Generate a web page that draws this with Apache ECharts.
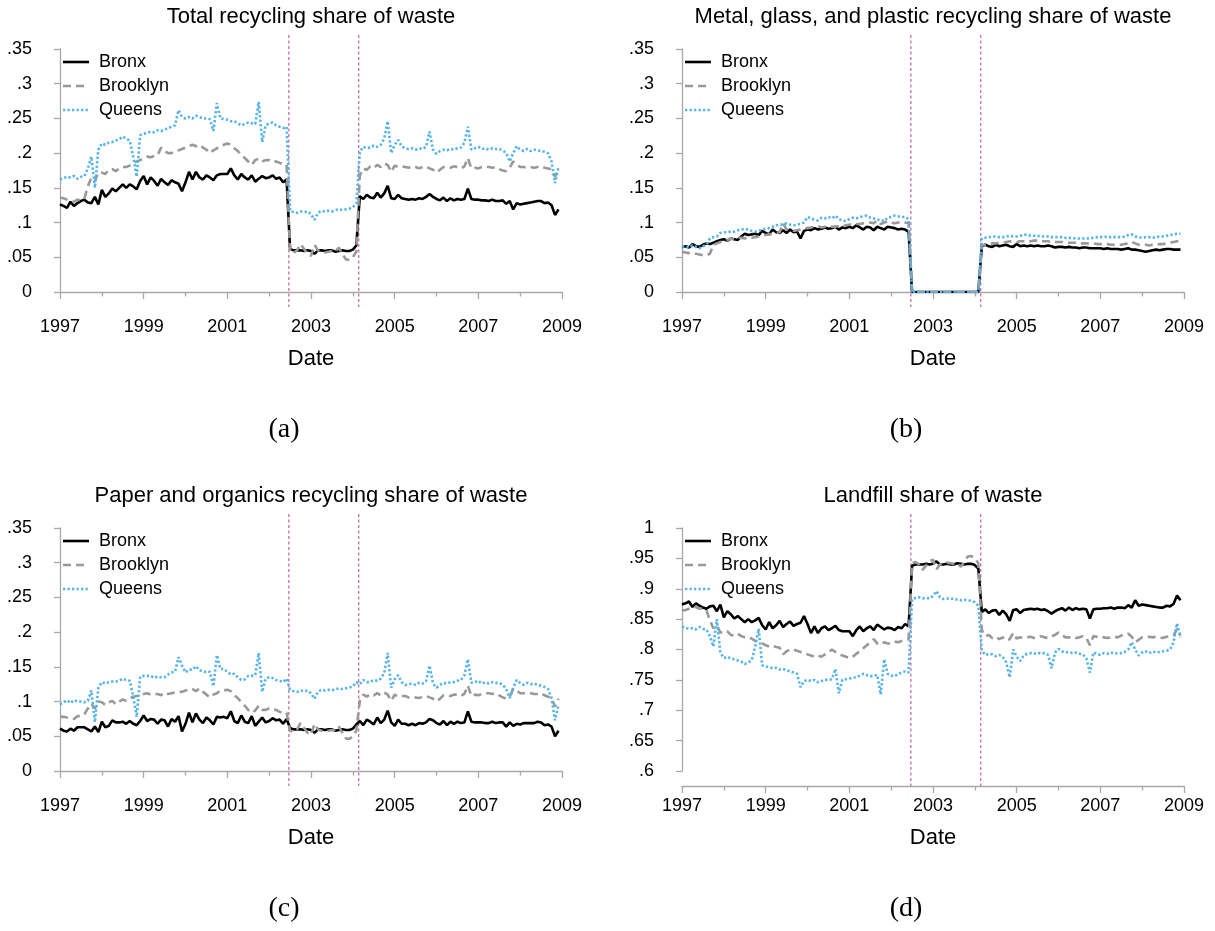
<!DOCTYPE html>
<html><head><meta charset="utf-8">
<script src="https://cdn.jsdelivr.net/npm/echarts@6/dist/echarts.min.js"></script>
<style>html,body{margin:0;padding:0;background:#fff}#chart{width:1215px;height:931px}</style>
</head><body><div id="chart"></div>
<script>
// ---------- data (monthly, Jan 1997 .. Dec 2008) ----------
const startYear = 1997;
const boroughs = ['Bronx', 'Brooklyn', 'Queens'];
const xTickLabels = ['1997', '1999', '2001', '2003', '2005', '2007', '2009'];
const shareTickLabels = ['0', '.05', '.1', '.15', '.2', '.25', '.3', '.35'];
const landfillTickLabels = ['.6', '.65', '.7', '.75', '.8', '.85', '.9', '.95', '1'];
const eventDates = [2002.47, 2004.14];
const panelTitles = ['Total recycling share of waste', 'Metal, glass, and plastic recycling share of waste',
  'Paper and organics recycling share of waste', 'Landfill share of waste'];
const captions = ['(a)', '(b)', '(c)', '(d)'];

const totalBronx = [
.126,.124,.121,.130,.124,.128,.131,.133,.129,.128,.137,.126,
.147,.137,.142,.149,.145,.150,.155,.150,.155,.152,.148,.160,
.167,.155,.165,.160,.153,.163,.158,.154,.161,.158,.156,.145,
.158,.173,.162,.173,.165,.162,.168,.165,.161,.168,.170,.170,
.170,.178,.168,.162,.170,.165,.162,.168,.159,.163,.167,.164,
.165,.168,.163,.165,.158,.162,.062,.060,.060,.060,.059,.060,
.059,.055,.060,.060,.059,.060,.060,.058,.059,.060,.059,.059,
.061,.067,.138,.134,.140,.136,.135,.143,.136,.142,.153,.135,
.134,.140,.135,.134,.133,.134,.133,.135,.134,.137,.141,.137,
.134,.132,.136,.131,.135,.132,.134,.133,.134,.149,.134,.133,
.133,.132,.132,.131,.133,.131,.131,.132,.127,.131,.119,.128,
.126,.127,.128,.129,.130,.131,.131,.128,.129,.125,.111,.119];
const totalBrooklyn = [
.136,.135,.133,.131,.130,.133,.132,.135,.152,.165,.160,.172,
.172,.170,.176,.177,.174,.178,.180,.180,.182,.186,.188,.190,
.193,.195,.194,.196,.197,.208,.203,.200,.200,.202,.204,.206,
.208,.210,.212,.210,.212,.208,.205,.200,.204,.207,.210,.212,
.214,.212,.207,.203,.198,.193,.188,.183,.190,.192,.188,.190,
.190,.187,.188,.186,.184,.183,.058,.056,.060,.069,.062,.055,
.052,.068,.060,.058,.057,.058,.059,.058,.064,.055,.047,.046,
.050,.058,.168,.178,.176,.181,.179,.183,.180,.185,.183,.173,
.182,.180,.181,.180,.179,.181,.180,.178,.180,.181,.178,.176,
.172,.176,.180,.180,.179,.181,.180,.178,.181,.193,.178,.179,
.178,.180,.181,.180,.179,.180,.177,.175,.174,.179,.188,.184,
.180,.180,.179,.180,.179,.180,.181,.179,.178,.177,.166,.177];
const totalQueens = [
.162,.164,.166,.165,.167,.163,.166,.167,.178,.195,.150,.205,
.214,.212,.215,.216,.218,.220,.224,.221,.218,.195,.166,.226,
.228,.229,.231,.230,.233,.232,.234,.236,.238,.240,.262,.252,
.250,.252,.250,.254,.252,.250,.250,.249,.232,.272,.250,.249,
.248,.246,.246,.243,.240,.242,.244,.243,.242,.274,.216,.240,
.243,.244,.240,.238,.236,.238,.117,.115,.114,.116,.115,.116,
.112,.104,.114,.117,.116,.117,.116,.118,.119,.118,.119,.120,
.122,.128,.202,.209,.207,.208,.211,.209,.212,.221,.246,.200,
.212,.219,.210,.207,.206,.207,.205,.207,.206,.209,.231,.205,
.199,.203,.205,.204,.206,.205,.207,.208,.215,.238,.205,.207,
.209,.206,.207,.205,.207,.206,.206,.204,.200,.188,.200,.210,
.205,.203,.206,.203,.205,.204,.203,.202,.200,.188,.157,.180];

const mgpBronx = [
.065,.066,.064,.069,.066,.065,.068,.070,.069,.071,.073,.075,
.076,.074,.077,.076,.075,.080,.084,.082,.083,.084,.082,.088,
.085,.083,.090,.086,.085,.089,.085,.090,.086,.087,.077,.088,
.090,.089,.092,.090,.091,.093,.091,.092,.094,.090,.093,.092,
.094,.092,.096,.093,.090,.094,.093,.089,.094,.092,.090,.094,
.093,.092,.090,.091,.090,.087,0,0,0,0,0,0,
0,0,0,0,0,0,0,0,0,0,0,0,
0,0,.066,.068,.066,.065,.068,.066,.067,.068,.066,.065,
.069,.066,.067,.066,.067,.066,.067,.066,.066,.067,.066,.064,
.065,.065,.064,.065,.064,.064,.063,.064,.064,.063,.063,.063,
.063,.062,.063,.062,.062,.062,.061,.062,.063,.061,.061,.060,
.059,.058,.059,.060,.061,.060,.061,.062,.062,.061,.061,.061];
const mgpBrooklyn = [
.058,.057,.056,.055,.055,.054,.053,.053,.055,.068,.070,.072,
.073,.075,.077,.076,.078,.078,.077,.079,.078,.079,.080,.081,
.082,.083,.084,.085,.086,.099,.090,.089,.088,.089,.090,.092,
.092,.093,.094,.095,.093,.094,.095,.094,.094,.095,.094,.096,
.097,.097,.098,.098,.099,.099,.100,.099,.103,.098,.100,.102,
.100,.099,.100,.101,.100,.099,0,0,0,0,0,0,
0,0,0,0,0,0,0,0,0,0,0,0,
0,0,.067,.068,.069,.070,.070,.071,.071,.072,.073,.072,
.072,.073,.073,.072,.073,.074,.074,.073,.073,.073,.072,.072,
.072,.072,.071,.071,.071,.071,.070,.070,.070,.070,.070,.069,
.069,.069,.069,.068,.068,.068,.068,.069,.070,.072,.070,.068,
.068,.068,.067,.068,.068,.069,.069,.070,.071,.072,.073,.073];
const mgpQueens = [
.066,.065,.064,.067,.065,.063,.066,.068,.077,.079,.080,.085,
.086,.086,.087,.087,.089,.090,.091,.090,.088,.087,.088,.090,
.091,.092,.094,.096,.097,.097,.099,.097,.096,.097,.098,.100,
.108,.106,.104,.103,.107,.106,.108,.106,.110,.105,.103,.102,
.105,.107,.106,.108,.109,.110,.107,.106,.104,.104,.102,.107,
.108,.110,.109,.108,.108,.105,0,0,0,0,0,0,
0,0,0,0,0,0,0,0,0,0,0,0,
0,0,.077,.078,.079,.080,.080,.079,.079,.080,.081,.080,
.080,.081,.082,.083,.081,.081,.081,.080,.080,.080,.079,.079,
.079,.079,.078,.078,.078,.077,.077,.077,.077,.077,.078,.079,
.079,.080,.079,.079,.079,.079,.079,.080,.082,.083,.080,.079,
.078,.079,.079,.078,.079,.080,.080,.081,.082,.083,.084,.084];

const paperBronx = [
.061,.058,.057,.061,.058,.063,.063,.063,.060,.057,.064,.056,
.071,.063,.065,.073,.070,.070,.071,.068,.072,.068,.066,.072,
.080,.072,.075,.074,.068,.074,.073,.064,.075,.071,.079,.057,
.068,.084,.070,.083,.074,.069,.077,.073,.067,.078,.077,.078,
.076,.086,.072,.069,.080,.071,.069,.079,.065,.071,.077,.070,
.072,.076,.073,.074,.068,.075,.062,.060,.060,.060,.059,.060,
.059,.055,.060,.060,.059,.060,.060,.058,.059,.060,.059,.059,
.061,.067,.072,.066,.074,.071,.067,.077,.069,.074,.087,.070,
.065,.074,.068,.068,.066,.068,.066,.069,.068,.070,.075,.073,
.069,.067,.072,.066,.071,.068,.071,.069,.070,.086,.071,.070,
.070,.070,.069,.069,.071,.069,.070,.070,.064,.070,.065,.068,
.067,.069,.069,.069,.069,.071,.070,.066,.067,.064,.050,.058];
const paperBrooklyn = [
.078,.078,.077,.076,.075,.079,.079,.082,.090,.097,.090,.100,
.099,.095,.099,.101,.096,.100,.103,.101,.104,.107,.108,.109,
.111,.112,.110,.111,.111,.109,.113,.111,.112,.113,.114,.114,
.116,.117,.118,.115,.119,.114,.110,.106,.110,.112,.116,.116,
.117,.115,.109,.105,.099,.094,.088,.084,.087,.094,.088,.088,
.090,.088,.088,.085,.084,.084,.058,.056,.060,.069,.062,.055,
.052,.068,.060,.058,.057,.058,.059,.058,.064,.055,.047,.046,
.050,.058,.101,.110,.107,.111,.109,.112,.109,.113,.110,.101,
.110,.107,.108,.108,.106,.107,.106,.105,.107,.108,.106,.104,
.100,.104,.109,.109,.108,.110,.110,.108,.111,.123,.108,.110,
.109,.111,.112,.112,.111,.112,.109,.106,.104,.107,.118,.116,
.112,.112,.112,.112,.111,.111,.112,.109,.107,.105,.093,.104];
const paperQueens = [
.096,.099,.102,.098,.102,.100,.100,.099,.101,.116,.070,.120,
.128,.126,.128,.129,.129,.130,.133,.131,.130,.108,.078,.136,
.137,.137,.137,.134,.136,.135,.135,.139,.142,.143,.164,.152,
.142,.146,.146,.151,.145,.144,.142,.143,.122,.167,.147,.147,
.143,.139,.140,.135,.131,.132,.137,.137,.138,.170,.114,.133,
.135,.134,.131,.130,.128,.133,.117,.115,.114,.116,.115,.116,
.112,.104,.114,.117,.116,.117,.116,.118,.119,.118,.119,.120,
.122,.128,.125,.131,.128,.128,.131,.130,.133,.141,.170,.120,
.132,.138,.128,.124,.125,.126,.124,.127,.126,.129,.152,.126,
.120,.124,.127,.126,.128,.128,.130,.131,.138,.161,.127,.128,
.130,.126,.128,.126,.128,.127,.127,.124,.118,.105,.120,.131,
.127,.124,.127,.125,.126,.124,.123,.121,.118,.105,.073,.096];

const landfillBronx = [
.874,.876,.879,.870,.876,.872,.869,.867,.871,.872,.863,.874,
.853,.863,.858,.851,.855,.850,.845,.850,.845,.848,.852,.840,
.833,.845,.835,.840,.847,.837,.842,.846,.839,.842,.844,.855,
.842,.827,.838,.827,.835,.838,.832,.835,.839,.832,.830,.830,
.830,.822,.832,.838,.830,.835,.838,.832,.841,.837,.833,.836,
.835,.832,.837,.835,.842,.838,.938,.940,.940,.940,.941,.940,
.941,.945,.940,.940,.941,.940,.940,.942,.941,.940,.941,.941,
.939,.933,.862,.866,.860,.864,.865,.857,.864,.858,.847,.865,
.866,.860,.865,.866,.867,.866,.867,.865,.866,.863,.859,.863,
.866,.868,.864,.869,.865,.868,.866,.867,.866,.851,.866,.867,
.867,.868,.868,.869,.867,.869,.869,.868,.873,.869,.881,.872,
.874,.873,.872,.871,.870,.869,.869,.872,.871,.875,.889,.881];
const landfillBrooklyn = [
.864,.865,.867,.869,.870,.867,.868,.865,.848,.835,.840,.828,
.828,.830,.824,.823,.826,.822,.820,.820,.818,.814,.812,.810,
.807,.805,.806,.804,.803,.792,.797,.800,.800,.798,.796,.794,
.792,.790,.788,.790,.788,.792,.795,.800,.796,.793,.790,.788,
.786,.788,.793,.797,.802,.807,.812,.817,.810,.808,.812,.810,
.810,.813,.812,.814,.816,.817,.942,.944,.940,.931,.938,.945,
.948,.932,.940,.942,.943,.942,.941,.942,.936,.945,.953,.954,
.950,.942,.832,.822,.824,.819,.821,.817,.820,.815,.817,.827,
.818,.820,.819,.820,.821,.819,.820,.822,.820,.819,.822,.824,
.828,.824,.820,.820,.821,.819,.820,.822,.819,.807,.822,.821,
.822,.820,.819,.820,.821,.820,.823,.825,.826,.821,.812,.816,
.820,.820,.821,.820,.821,.820,.819,.821,.822,.823,.834,.823];
const landfillQueens = [
.838,.836,.834,.835,.833,.837,.834,.833,.822,.805,.850,.795,
.786,.788,.785,.784,.782,.780,.776,.779,.782,.805,.834,.774,
.772,.771,.769,.770,.767,.768,.766,.764,.762,.760,.738,.748,
.750,.748,.750,.746,.748,.750,.750,.751,.768,.728,.750,.751,
.752,.754,.754,.757,.760,.758,.756,.757,.758,.726,.784,.760,
.757,.756,.760,.762,.764,.762,.883,.885,.886,.884,.885,.884,
.888,.896,.886,.883,.884,.883,.884,.882,.881,.882,.881,.880,
.878,.872,.798,.791,.793,.792,.789,.791,.788,.779,.754,.800,
.788,.781,.790,.793,.794,.793,.795,.793,.794,.791,.769,.795,
.801,.797,.795,.796,.794,.795,.793,.792,.785,.762,.795,.793,
.791,.794,.793,.795,.793,.794,.794,.796,.800,.812,.800,.790,
.795,.797,.794,.797,.795,.796,.797,.798,.800,.812,.843,.820];

// ---------- layout / styles ----------
const FONT = '"Liberation Sans", Arial, sans-serif';
const AXIS_GRAY = '#a8a8a8';
const EVENT_COLOR = '#CC79A7';
const lineStyles = [
  {color: '#000000', width: 2.6, type: 'solid'},
  {color: '#999999', width: 2.6, type: [8, 5]},
  {color: '#56B4E9', width: 2.6, type: [2.3, 2.2]}
];
const panels = [
  {series: [totalBronx, totalBrooklyn, totalQueens], ticks: shareTickLabels, min: 0, max: 0.35},
  {series: [mgpBronx, mgpBrooklyn, mgpQueens], ticks: shareTickLabels, min: 0, max: 0.35},
  {series: [paperBronx, paperBrooklyn, paperQueens], ticks: shareTickLabels, min: 0, max: 0.35},
  {series: [landfillBronx, landfillBrooklyn, landfillQueens], ticks: landfillTickLabels, min: 0.6, max: 1}
];
const boxes = [
  {left: 60, top: 49}, {left: 682, top: 49}, {left: 60, top: 528}, {left: 682, top: 528}
];
const PW = 502, PH = 243;

const grids = [], xAxes = [], yAxes = [], series = [], graphics = [];
panels.forEach((p, i) => {
  const b = boxes[i];
  grids.push({left: b.left, top: b.top, width: PW, height: PH});
  xAxes.push({
    gridIndex: i, type: 'value', min: 0, max: 144, interval: 24, offset: 15,
    axisLine: {show: true, lineStyle: {color: AXIS_GRAY, width: 1.3}},
    axisTick: {show: true, length: 7, lineStyle: {color: AXIS_GRAY, width: 1.3}},
    minorTick: {show: true, splitNumber: 2, length: 4.5, lineStyle: {color: AXIS_GRAY, width: 1.3}},
    splitLine: {show: false}, minorSplitLine: {show: false},
    axisLabel: {formatter: v => xTickLabels[Math.round(v / 24)], margin: 11, fontSize: 18, color: '#000', fontFamily: FONT},
    name: 'Date', nameLocation: 'middle', nameGap: 41,
    nameTextStyle: {fontSize: 22, color: '#000', fontFamily: FONT}
  });
  yAxes.push({
    gridIndex: i, type: 'value', min: p.min, max: p.max, interval: 0.05, offset: 15,
    axisLine: {show: true, lineStyle: {color: AXIS_GRAY, width: 1.3}},
    axisTick: {show: true, length: 6, lineStyle: {color: AXIS_GRAY, width: 1.3}},
    splitLine: {show: false},
    axisLabel: {formatter: v => p.ticks[Math.round((v - p.min) / 0.05)], margin: 13, fontSize: 18, color: '#000', fontFamily: FONT}
  });
  p.series.forEach((arr, j) => {
    series.push({
      type: 'line', name: boroughs[j], xAxisIndex: i, yAxisIndex: i,
      data: arr.map((v, k) => [k, v]), symbol: 'none', silent: true,
      lineStyle: lineStyles[j], z: 3 + j
    });
  });
  series.push({
    type: 'custom', xAxisIndex: i, yAxisIndex: i, silent: true, z: 2,
    data: eventDates.map(d => [(d - startYear) * 12, p.min]),
    encode: {x: 0, y: 1},
    renderItem: (params, api) => {
      const x = api.coord([api.value(0), api.value(1)])[0];
      const cs = params.coordSys;
      return {type: 'line', shape: {x1: x, y1: cs.y - 14, x2: x, y2: cs.y + cs.height + 15},
        style: {stroke: EVENT_COLOR, lineWidth: 1.4, lineDash: [3, 2.5]}};
    }
  });
  // titles
  graphics.push({type: 'text', x: b.left + PW / 2, y: b.top - 32,
    style: {text: panelTitles[i], font: '22px ' + FONT, fill: '#000', align: 'center', verticalAlign: 'middle', textAlign: 'center', textVerticalAlign: 'middle'}});
  // captions
  graphics.push({type: 'text', x: b.left + 224, y: b.top + 381,
    style: {text: captions[i], font: '28px "Liberation Serif", "DejaVu Serif", serif', fill: '#000', align: 'center', verticalAlign: 'middle', textAlign: 'center', textVerticalAlign: 'middle'}});
  // legend
  boroughs.forEach((name, j) => {
    const ly = b.top + 13 + j * 24;
    const ls = lineStyles[j];
    graphics.push({type: 'line', shape: {x1: b.left + 3, y1: ly, x2: b.left + 29, y2: ly},
      style: {stroke: ls.color, lineWidth: ls.width, lineDash: ls.type === 'solid' ? null : ls.type}});
    graphics.push({type: 'text', x: b.left + 39, y: ly,
      style: {text: name, font: '18px ' + FONT, fill: '#000', align: 'left', verticalAlign: 'middle', textAlign: 'left', textVerticalAlign: 'middle'}});
  });
});

const chart = echarts.init(document.getElementById('chart'), null, {renderer: 'canvas'});
chart.setOption({
  animation: false,
  backgroundColor: '#ffffff',
  grid: grids, xAxis: xAxes, yAxis: yAxes, series: series,
  graphic: {elements: graphics}
});
</script>
</body></html>
